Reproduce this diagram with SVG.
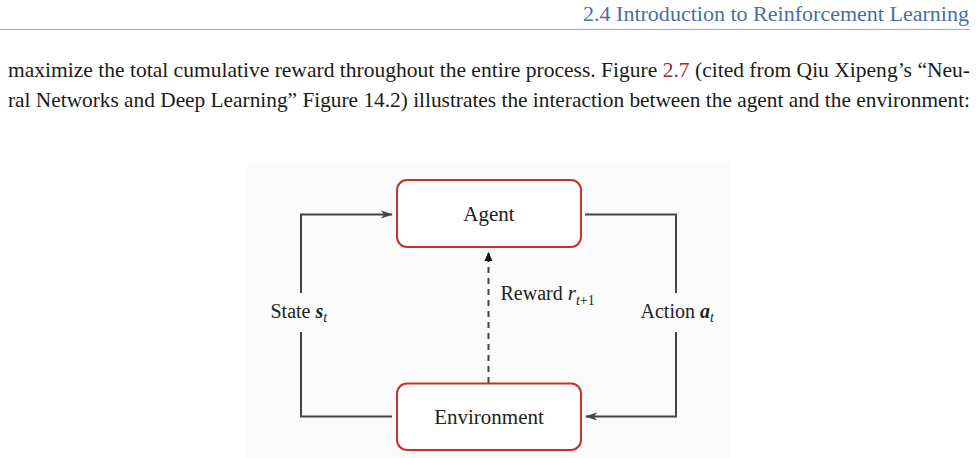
<svg xmlns="http://www.w3.org/2000/svg" width="979" height="458" viewBox="0 0 979 458">
<style>
  .body { font-family: "Liberation Serif", "Times New Roman", serif; font-size: 21px; fill: #1a1a1a; }
  .hdr { font-family: "Liberation Serif", "Times New Roman", serif; font-size: 20px; fill: #4a6ea8; }
  .box { fill: #ffffff; stroke: #c8302c; stroke-width: 2; }
  .lbl { font-family: "Liberation Serif", "Times New Roman", serif; font-size: 21px; fill: #222; }
  .sm { font-family: "Liberation Serif", "Times New Roman", serif; font-size: 20px; fill: #222; }
  .conn { fill: none; stroke: #444; stroke-width: 2; }
</style>
<defs>
  <marker id="arr" viewBox="0 0 12 10" refX="11" refY="5" markerWidth="12" markerHeight="10" markerUnits="userSpaceOnUse" orient="auto">
    <path d="M0,1 L12,5 L0,9 L3,5 Z" fill="#444"/>
  </marker>
  <marker id="arrd" viewBox="0 0 10 10" refX="9" refY="5" markerWidth="10" markerHeight="9" markerUnits="userSpaceOnUse" orient="auto">
    <path d="M0,0.5 L10,5 L0,9.5 Z" fill="#111"/>
  </marker>
</defs>
<rect width="979" height="458" fill="#ffffff"/>
<g id="header">
  <text class="hdr" x="969" y="21" text-anchor="end" textLength="386" lengthAdjust="spacingAndGlyphs">2.4  Introduction to Reinforcement Learning</text>
  <line x1="0" y1="29.5" x2="970" y2="29.5" stroke="#8fb0d8" stroke-width="1"/>
</g>
<g id="paragraph">
  <text class="body" x="8" y="77" textLength="962" lengthAdjust="spacingAndGlyphs">maximize the total cumulative reward throughout the entire process. Figure <tspan fill="#a3282a">2.7</tspan> (cited from Qiu Xipeng’s “Neu-</text>
  <text class="body" x="8" y="107" textLength="962" lengthAdjust="spacingAndGlyphs">ral Networks and Deep Learning” Figure 14.2) illustrates the interaction between the agent and the environment:</text>
</g>
<rect x="247" y="163" width="483" height="295" fill="#fbfbfb"/>
<g id="connectors">
  <polyline class="conn" points="301,293 301,214.5 392,214.5" marker-end="url(#arr)"/>
  <polyline class="conn" points="392,416.5 301,416.5 301,332"/>
  <polyline class="conn" points="585,214.5 676,214.5 676,293"/>
  <polyline class="conn" points="676,332 676,416.5 586,416.5" marker-end="url(#arr)"/>
  <line class="conn" x1="488.5" y1="383" x2="488.5" y2="262" stroke-dasharray="6,5" stroke="#222"/>
  <line x1="488.5" y1="262" x2="488.5" y2="253" stroke="#111" stroke-width="2" marker-end="url(#arrd)"/>
  <text class="sm" x="270.5" y="318">State <tspan font-style="italic" font-weight="bold">s</tspan><tspan font-style="italic" font-size="14" dy="4">t</tspan></text>
  <text class="sm" x="500.5" y="300">Reward <tspan font-style="italic" font-size="21">r</tspan><tspan font-style="italic" font-size="14" dy="5">t</tspan><tspan font-size="14">+1</tspan></text>
  <text class="sm" x="640.5" y="318">Action <tspan font-style="italic" font-weight="bold">a</tspan><tspan font-style="italic" font-size="14" dy="4">t</tspan></text>
</g>
<g id="agent">
  <rect class="box" x="397" y="180" width="184" height="67" rx="10"/>
  <text class="lbl" x="489" y="221" text-anchor="middle">Agent</text>
</g>
<g id="environment">
  <rect class="box" x="397" y="383.5" width="184" height="66.5" rx="10"/>
  <text class="lbl" x="489" y="424" text-anchor="middle">Environment</text>
</g>
</svg>
